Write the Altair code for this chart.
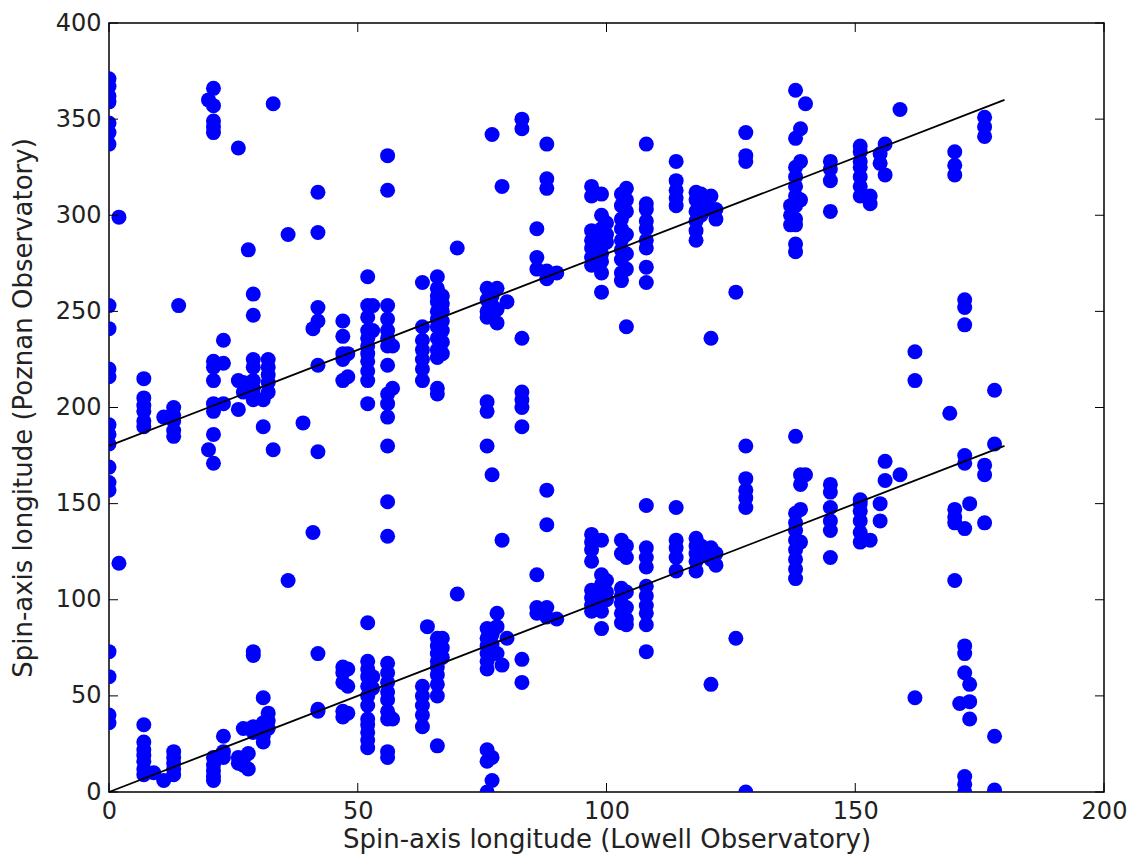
import altair as alt
import pandas as pd

# Lowell longitude columns and the Poznan longitudes read at each column
col_x = [0, 2, 7, 9, 11, 13, 14, 20, 21, 23, 26, 27, 28, 29, 31, 32, 33, 36, 39, 41, 42,
         47, 48, 52, 53, 56, 57, 63, 64, 66, 67, 70, 76, 77, 78, 79, 80, 83, 86, 88, 90,
         97, 99, 100, 103, 104, 108, 114, 118, 119, 121, 122, 126, 128, 137, 138, 139, 140,
         145, 151, 153, 155, 156, 159, 162, 169, 170, 171, 172, 173, 176, 178]
col_y = [
    [371, 367, 362, 359, 348, 343, 337, 253, 241, 220, 216, 191, 186, 181, 169, 161, 157, 73, 60, 40, 36],
    [299, 119],
    [215, 205, 201, 198, 193, 190, 35, 26, 22, 19, 16, 12, 9],
    [10],
    [195, 6],
    [200, 196, 193, 188, 185, 21, 18, 15, 12, 9],
    [253],
    [360, 178],
    [366, 357, 349, 346, 343, 224, 221, 214, 202, 198, 186, 171, 18, 14, 11, 8, 6],
    [235, 223, 202, 29, 21, 18],
    [335, 214, 199, 18, 15],
    [208, 213, 33, 17, 14],
    [282, 12, 20],
    [259, 248, 225, 221, 214, 210, 207, 204, 73, 71, 34, 31],
    [190, 204, 49, 36, 29, 26],
    [225, 221, 217, 213, 208, 41, 37, 33],
    [358, 178],
    [290, 110],
    [192],
    [241, 135],
    [312, 291, 252, 245, 222, 177, 72, 43, 42],
    [245, 237, 228, 225, 214, 65, 62, 57, 42, 39],
    [228, 216, 64, 55, 41],
    [268, 253, 247, 240, 236, 232, 228, 224, 219, 214, 202, 88, 68, 64, 60, 55, 50, 45, 38, 35, 31, 27, 23],
    [253, 240, 60, 54],
    [331, 313, 253, 246, 240, 236, 232, 222, 207, 202, 195, 180, 151, 133, 67, 62, 57, 52, 48, 42, 38, 21, 18],
    [232, 210, 38],
    [265, 242, 235, 230, 225, 220, 214, 55, 50, 45, 40, 34],
    [86],
    [268, 262, 258, 255, 250, 246, 242, 236, 230, 226, 210, 207, 80, 76, 72, 68, 65, 61, 56, 50, 24],
    [258, 254, 250, 245, 240, 234, 228, 80, 75, 70],
    [283, 103],
    [262, 256, 250, 247, 203, 198, 180, 85, 80, 76, 72, 68, 64, 22, 16, 0],
    [342, 258, 253, 165, 82, 77, 72, 18, 6],
    [262, 251, 244, 93, 86, 72],
    [315, 131, 66],
    [255, 80],
    [350, 345, 236, 208, 204, 200, 190, 69, 57],
    [293, 278, 272, 113, 96, 93],
    [337, 319, 314, 271, 267, 157, 139, 96, 91],
    [270, 90],
    [315, 310, 292, 287, 283, 278, 274, 134, 130, 126, 120, 105, 101, 97, 94],
    [311, 300, 293, 289, 284, 280, 276, 270, 260, 131, 113, 108, 103, 99, 94, 85],
    [296, 290, 286, 110, 104, 100],
    [311, 305, 298, 293, 287, 282, 277, 270, 266, 131, 124, 106, 102, 98, 93, 88],
    [314, 308, 302, 290, 280, 272, 242, 128, 122, 104, 96, 90, 87],
    [337, 306, 303, 297, 293, 287, 283, 273, 265, 149, 127, 122, 117, 107, 102, 97, 93, 87, 73],
    [328, 318, 313, 309, 305, 148, 131, 127, 122, 115],
    [312, 308, 302, 297, 292, 287, 132, 128, 124, 120, 115],
    [311, 306, 300, 128, 123],
    [310, 303, 236, 127, 121, 56],
    [303, 298, 124, 118],
    [260, 80],
    [343, 331, 328, 180, 163, 157, 153, 148, 0],
    [305, 300, 295],
    [365, 340, 325, 320, 315, 310, 305, 298, 295, 285, 281, 185, 145, 140, 136, 131, 126, 121, 116, 111],
    [345, 328, 308, 165, 160, 147, 130],
    [358, 165],
    [328, 324, 318, 302, 160, 156, 148, 141, 136, 122],
    [336, 333, 328, 325, 320, 315, 310, 152, 150, 146, 141, 135, 130],
    [310, 306, 131],
    [332, 327, 150, 141],
    [337, 321, 172, 162],
    [355, 165],
    [229, 214, 49],
    [197],
    [333, 326, 321, 147, 143, 140, 110],
    [46],
    [256, 252, 243, 175, 171, 137, 76, 72, 62, 8, 4, 0],
    [150, 56, 47, 38],
    [351, 346, 341, 170, 165, 140],
    [209, 181, 29, 1],
]

# reference lines y = x and y = x + 180
line_x = [0, 180]
line_low = [0, 180]
line_high = [180, 360]

x_ticks = [0, 50, 100, 150, 200]
y_ticks = [0, 50, 100, 150, 200, 250, 300, 350, 400]

lowell, poznan = [], []
for cx, ys in zip(col_x, col_y):
    for yv in ys:
        lowell.append(cx)
        poznan.append(yv)
pts = pd.DataFrame({"lowell": lowell, "poznan": poznan})
lines = pd.DataFrame({"lowell": line_x * 2, "poznan": line_low + line_high,
                      "grp": ["a", "a", "b", "b"]})
xt = pd.DataFrame({"v": x_ticks})
yt = pd.DataFrame({"v": y_ticks})

W, H = 995, 769
FONT = "DejaVu Sans"

xs = alt.Scale(domain=[0, 200], nice=False, zero=False)
ys_ = alt.Scale(domain=[0, 400], nice=False, zero=False)

x_axis = alt.Axis(values=x_ticks, title="Spin-axis longitude (Lowell Observatory)",
                  ticks=False, domain=False, grid=False, labelPadding=7,
                  titlePadding=3, labelFlush=False)
y_axis = alt.Axis(values=y_ticks, title="Spin-axis longitude (Poznan Observatory)",
                  ticks=False, domain=False, grid=False, labelPadding=8,
                  titlePadding=19, labelFlush=False)

points = alt.Chart(pts).mark_circle(size=225, color="#0000ff", opacity=1, clip=True).encode(
    x=alt.X("lowell:Q", scale=xs, axis=x_axis),
    y=alt.Y("poznan:Q", scale=ys_, axis=y_axis),
)

ref = alt.Chart(lines).mark_line(color="black", strokeWidth=1.8).encode(
    x=alt.X("lowell:Q", scale=xs),
    y=alt.Y("poznan:Q", scale=ys_),
    detail="grp:N",
)

tick_len = 9
bt = alt.Chart(xt).mark_rule(color="black", strokeWidth=1).encode(
    x=alt.X("v:Q", scale=xs), y=alt.value(H), y2=alt.value(H - tick_len))
tt = alt.Chart(xt).mark_rule(color="black", strokeWidth=1).encode(
    x=alt.X("v:Q", scale=xs), y=alt.value(0), y2=alt.value(tick_len))
lt = alt.Chart(yt).mark_rule(color="black", strokeWidth=1).encode(
    y=alt.Y("v:Q", scale=ys_), x=alt.value(0), x2=alt.value(tick_len))
rt = alt.Chart(yt).mark_rule(color="black", strokeWidth=1).encode(
    y=alt.Y("v:Q", scale=ys_), x=alt.value(W), x2=alt.value(W - tick_len))

chart = alt.layer(points, ref, bt, tt, lt, rt).properties(
    width=W, height=H,
    autosize=alt.AutoSizeParams(type="none"),
    padding={"left": 109, "top": 23, "right": 31, "bottom": 69},
    background="white",
).configure_view(
    stroke="black", strokeWidth=1.5
).configure_axis(
    labelFont=FONT, titleFont=FONT, labelFontSize=24, titleFontSize=26,
    labelColor="#222222", titleColor="#222222", titleFontWeight="normal",
)

chart.save("out.html", embed_options={"renderer": "svg", "actions": False})
